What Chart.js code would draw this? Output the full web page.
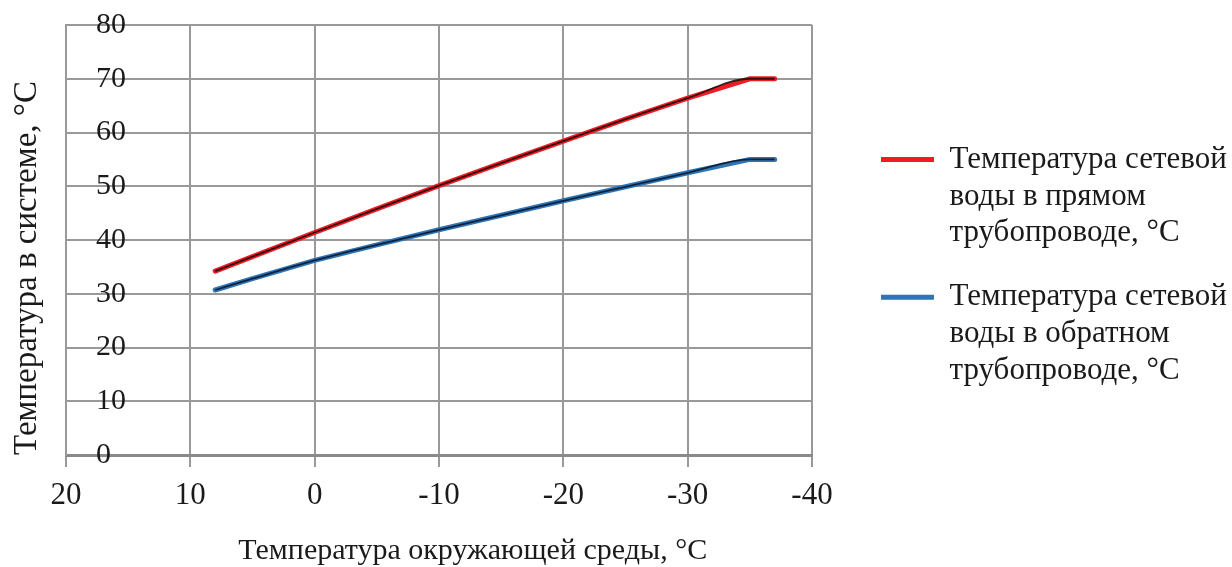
<!DOCTYPE html>
<html>
<head>
<meta charset="utf-8">
<script src="https://cdn.jsdelivr.net/npm/chart.js@4/dist/chart.umd.min.js"></script>
<style>
  html, body { margin: 0; padding: 0; background: #fff; }
  #wrap { width: 1232px; height: 567px; }
</style>
</head>
<body>
<div id="wrap"><canvas id="heat-chart"></canvas></div>
<script>
// outdoor temperature, °C
const outdoorTemps = [8, 5, 0, -5, -10, -15, -20, -25, -30, -35, -37];
// supply water temperature, °C
const supplyTemps = [34.2, 36.9, 41.4, 45.8, 50.1, 54.3, 58.4, 62.5, 66.4, 70, 70];
// return water temperature, °C
const returnTemps = [30.7, 32.8, 36.2, 39.1, 41.9, 44.6, 47.3, 49.9, 52.5, 55, 55];

const seriesNames = [
    ['Температура сетевой', 'воды в прямом', 'трубопроводе, °C'],
    ['Температура сетевой', 'воды в обратном', 'трубопроводе, °C']
];
const xTitle = 'Температура окружающей среды, °C';
const yTitle = 'Температура в системе, °C';

const serif = '"Liberation Serif", "DejaVu Serif", serif';
const gridColor = '#999999';
const textColor = '#1a1a1a';

function toPoints(values) {
    return outdoorTemps.map((t, i) => ({ x: t, y: values[i] }));
}

// chart.js has no legend margin option, so size and nudge it by hand
const legendBox = { width: 420, dx: 42, dy: 92 };
const legendPlacer = {
    id: 'legendPlacer',
    beforeInit(chart) {
        const legend = chart.legend;
        const fit = legend.fit;
        legend.fit = function () {
            fit.call(this);
            this.width = legendBox.width;
        };
        const draw = legend.draw;
        legend.draw = function () {
            this.left += legendBox.dx;
            this.top += legendBox.dy;
            draw.call(this);
            this.left -= legendBox.dx;
            this.top -= legendBox.dy;
        };
    }
};

const ctx = document.getElementById('heat-chart').getContext('2d');
const heatChart = new Chart(ctx, {
    type: 'line',
    data: {
        datasets: [
            {
                label: seriesNames[0],
                data: toPoints(supplyTemps),
                borderColor: '#ee1c25',
                backgroundColor: '#ee1c25',
                borderWidth: 5,
                borderCapStyle: 'round',
                pointRadius: 0,
                order: 3
            },
            {
                label: seriesNames[1],
                data: toPoints(returnTemps),
                borderColor: '#2e75b6',
                backgroundColor: '#2e75b6',
                borderWidth: 5,
                borderCapStyle: 'round',
                pointRadius: 0,
                order: 4
            },
            // thin dark trend lines laid over the coloured ones
            {
                label: 'trend1',
                data: toPoints(supplyTemps),
                borderColor: 'rgba(20,10,10,0.85)',
                borderWidth: 1.8,
                cubicInterpolationMode: 'monotone',
                pointRadius: 0,
                order: 1
            },
            {
                label: 'trend2',
                data: toPoints(returnTemps),
                borderColor: 'rgba(10,20,40,0.85)',
                borderWidth: 1.8,
                cubicInterpolationMode: 'monotone',
                pointRadius: 0,
                order: 2
            }
        ]
    },
    options: {
        responsive: true,
        maintainAspectRatio: false,
        animation: false,
        layout: { padding: { top: 25, right: 0, bottom: 0, left: 5 } },
        plugins: {
            tooltip: { enabled: false },
            legend: {
                position: 'right',
                align: 'start',
                labels: {
                    filter: (item) => item.datasetIndex < 2,
                    usePointStyle: true,
                    pointStyle: 'line',
                    pointStyleWidth: 53,
                    padding: 27,
                    color: textColor,
                    font: { family: serif, size: 31, lineHeight: 1.19 }
                }
            }
        },
        scales: {
            x: {
                type: 'linear',
                reverse: true,
                min: -40,
                max: 20,
                afterFit(scale) { scale.height = 112; },
                ticks: {
                    stepSize: 10,
                    padding: 10,
                    color: textColor,
                    font: { family: serif, size: 31 }
                },
                grid: { color: gridColor, lineWidth: 2, tickLength: 12 },
                border: { color: '#8a8a8a', width: 3 },
                title: {
                    display: true,
                    // title sits a little right of centre in the original
                    text: '\u00A0'.repeat(9) + xTitle,
                    color: textColor,
                    font: { family: serif, size: 30 },
                    padding: { top: 0, bottom: -2 }
                }
            },
            y: {
                min: 0,
                max: 80,
                afterFit(scale) {
                    scale.width = 61;
                    scale.paddingTop = 0;
                    scale.paddingBottom = 0;
                },
                ticks: {
                    stepSize: 10,
                    mirror: true,
                    padding: 30,
                    color: textColor,
                    font: { family: serif, size: 30 }
                },
                grid: { color: gridColor, lineWidth: 2, drawTicks: false },
                border: { color: gridColor, width: 2 },
                title: {
                    display: true,
                    align: 'start',
                    text: yTitle,
                    color: textColor,
                    font: { family: serif, size: 33 },
                    padding: { top: 3, bottom: 0 }
                }
            }
        }
    },
    plugins: [legendPlacer]
});
</script>
</body>
</html>
